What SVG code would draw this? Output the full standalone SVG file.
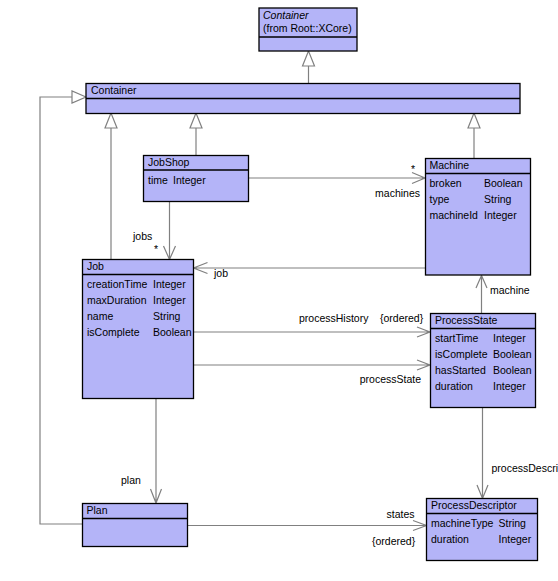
<svg xmlns="http://www.w3.org/2000/svg" width="558" height="581" viewBox="0 0 558 581">
<style>
.box{fill:#b4b4f8;stroke:#000;stroke-width:1.3}
.div{stroke:#000;stroke-width:1.3}
text{font-family:"Liberation Sans",Arial,sans-serif;font-size:10.5px;fill:#000}
.it{font-style:italic}
.c{fill:none;stroke:#808080;stroke-width:1.2}
.tri{fill:#fff;stroke:#808080;stroke-width:1.2}
</style>
<rect width="558" height="581" fill="#fff"/>
<g id="connectors">
<path class="c" d="M308.5,66 V83"/>
<polygon class="tri" points="308.5,51 302.5,66 314.5,66"/>
<path class="c" d="M111,128 V259"/>
<polygon class="tri" points="111,113 105,128 117,128"/>
<path class="c" d="M196,128 V155"/>
<polygon class="tri" points="196,113 190,128 202,128"/>
<path class="c" d="M474,128 V158"/>
<polygon class="tri" points="474,113 468,128 480,128"/>
<path class="c" d="M82,524 H40 V97 H72"/>
<polygon class="tri" points="86,97 72,91 72,103"/>
<path class="c" d="M169.5,201 V259.5 M163.5,246 L169.5,259.5 L175.5,246"/>
<path class="c" d="M248,178 H425 M412,172.5 L425,178 L412,183.5"/>
<path class="c" d="M425,268 H193.5 M207.5,262.5 L193.5,268 L207.5,273.5"/>
<path class="c" d="M193,332 H430 M417,327 L430,332 L417,337"/>
<path class="c" d="M193,365 H430 M417,360 L430,365 L417,370"/>
<path class="c" d="M481.5,313 V275.5 M476,288 L481.5,275.5 L487,288"/>
<path class="c" d="M482.5,407 V498.5 M477,485 L482.5,498.5 L488,485"/>
<path class="c" d="M156,398 V503 M150.5,489 L156,503 L161.5,489"/>
<path class="c" d="M187,525.5 H426.5 M413,520.5 L426.5,525.5 L413,530.5"/>
<text x="133" y="240">jobs</text>
<text x="154" y="253">*</text>
<text x="411" y="173">*</text>
<text x="420" y="197" text-anchor="end">machines</text>
<text x="214" y="277">job</text>
<text x="299" y="322">processHistory</text>
<text x="380" y="322">{ordered}</text>
<text x="421" y="383" text-anchor="end">processState</text>
<text x="490" y="294">machine</text>
<text x="491.5" y="472">processDescri</text>
<text x="121" y="484">plan</text>
<text x="386.5" y="518">states</text>
<text x="372" y="545">{ordered}</text>
</g>
<g id="XCoreContainer">
<rect class="box" x="259" y="8" width="98" height="43"/>
<line class="div" x1="259" y1="37" x2="357" y2="37"/>
<text class="it" x="263" y="19">Container</text>
<text x="263" y="32">(from Root::XCore)</text>
</g>
<g id="Container">
<rect class="box" x="86" y="83.5" width="434" height="30"/>
<line class="div" x1="86" y1="98.5" x2="520" y2="98.5"/>
<text x="91" y="94">Container</text>
</g>
<g id="JobShop">
<rect class="box" x="143.5" y="155.5" width="105" height="46"/>
<line class="div" x1="143.5" y1="170" x2="248.5" y2="170"/>
<text x="148" y="166">JobShop</text>
<text x="148" y="184">time</text>
<text x="173" y="184">Integer</text>
</g>
<g id="Machine">
<rect class="box" x="425.5" y="158.5" width="105" height="116.5"/>
<line class="div" x1="425.5" y1="173.5" x2="530.5" y2="173.5"/>
<text x="429.5" y="169">Machine</text>
<text x="429.5" y="187">broken</text><text x="484" y="187">Boolean</text>
<text x="429.5" y="203">type</text><text x="484" y="203">String</text>
<text x="429.5" y="218.5">machineId</text><text x="484" y="218.5">Integer</text>
</g>
<g id="Job">
<rect class="box" x="82.5" y="259.5" width="111" height="139"/>
<line class="div" x1="82.5" y1="274.5" x2="193.5" y2="274.5"/>
<text x="87" y="270">Job</text>
<text x="87" y="288">creationTime</text><text x="153" y="288">Integer</text>
<text x="87" y="304">maxDuration</text><text x="153" y="304">Integer</text>
<text x="87" y="320">name</text><text x="153" y="320">String</text>
<text x="87" y="336">isComplete</text><text x="153" y="336">Boolean</text>
</g>
<g id="ProcessState">
<rect class="box" x="430.5" y="313.5" width="105" height="94"/>
<line class="div" x1="430.5" y1="328.5" x2="535.5" y2="328.5"/>
<text x="435" y="324">ProcessState</text>
<text x="435" y="342">startTime</text><text x="493" y="342">Integer</text>
<text x="435" y="358">isComplete</text><text x="493" y="358">Boolean</text>
<text x="435" y="374">hasStarted</text><text x="493" y="374">Boolean</text>
<text x="435" y="390">duration</text><text x="493" y="390">Integer</text>
</g>
<g id="Plan">
<rect class="box" x="82.5" y="503.5" width="105" height="43"/>
<line class="div" x1="82.5" y1="518.5" x2="187.5" y2="518.5"/>
<text x="86.5" y="514">Plan</text>
</g>
<g id="ProcessDescriptor">
<rect class="box" x="426.5" y="498.5" width="111" height="62"/>
<line class="div" x1="426.5" y1="513.5" x2="537.5" y2="513.5"/>
<text x="431" y="509">ProcessDescriptor</text>
<text x="431" y="527">machineType</text><text x="498.5" y="527">String</text>
<text x="431" y="543">duration</text><text x="498.5" y="543">Integer</text>
</g>
</svg>
